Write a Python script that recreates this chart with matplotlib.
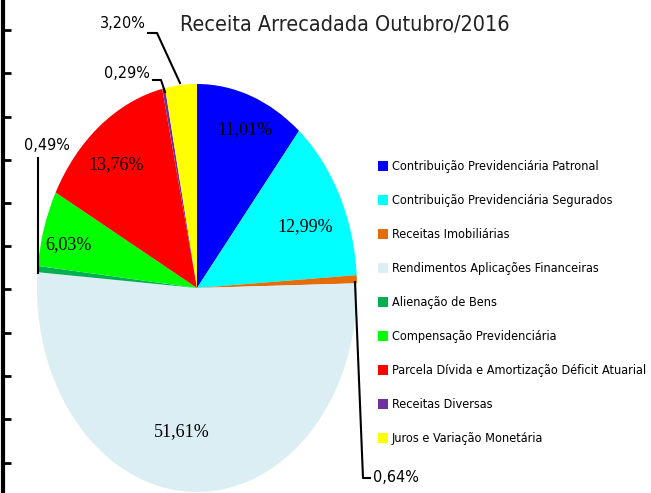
import matplotlib
matplotlib.use("Agg")
import matplotlib.pyplot as plt
from matplotlib.patches import Patch
from matplotlib import font_manager as fm

title = "Receita Arrecadada Outubro/2016"
categories = [
    "Contribuição Previdenciária Patronal",
    "Contribuição Previdenciária Segurados",
    "Receitas Imobiliárias",
    "Rendimentos Aplicações Financeiras",
    "Alienação de Bens",
    "Compensação Previdenciária",
    "Parcela Dívida e Amortização Déficit Atuarial",
    "Receitas Diversas",
    "Juros e Variação Monetária",
]
values = [11.01, 12.99, 0.64, 51.61, 0.49, 6.03, 13.76, 0.29, 3.20]
value_labels = ["11,01%", "12,99%", "0,64%", "51,61%", "0,49%", "6,03%", "13,76%", "0,29%", "3,20%"]
colors = ["#0000FF", "#00FFFF", "#E46C0A", "#DAEEF3", "#00B050",
          "#00FF00", "#FF0000", "#7030A0", "#FFFF00"]

W, H = 651, 493
fig = plt.figure(figsize=(W / 100, H / 100), dpi=100)
renderer = fig.canvas.get_renderer()

cond = [f for f in fm.fontManager.ttflist
        if "DejaVuSansCondensed.ttf" in f.fname]
if not cond:
    cond = [f for f in fm.fontManager.ttflist
            if "Condensed" in f.fname and "Bold" not in f.fname and "Oblique" not in f.fname
            and "Serif" not in f.fname and "Mono" not in f.fname]
cond_fname = cond[0].fname if cond else None


def nprop(size):
    if cond_fname:
        return fm.FontProperties(fname=cond_fname, size=size)
    return fm.FontProperties(family="DejaVu Sans", size=size)


def fit_size(text, target_px, base=10.0):
    t = fig.text(0, 0, text, fontproperties=nprop(base))
    w = t.get_window_extent(renderer).width
    t.remove()
    return base * target_px / w


serif = ["Liberation Serif", "DejaVu Serif"]

# pie axes (elliptical pie)
cx, cy, rx, ry = 197, 288, 160, 204
pax = fig.add_axes([(cx - rx) / W, (H - cy - ry) / H, 2 * rx / W, 2 * ry / H])
wedges, _ = pax.pie(values, colors=colors, startangle=90, counterclock=False,
                    wedgeprops=dict(linewidth=0))
pax.set_aspect("auto")
pax.set_xlim(-1, 1)
pax.set_ylim(-1, 1)
pax.axis("off")

# overlay in pixel coordinates
ov = fig.add_axes([0, 0, 1, 1], facecolor="none")
ov.set_xlim(0, W)
ov.set_ylim(H, 0)
ov.axis("off")

ov.text(345, 25, title, fontproperties=nprop(fit_size(title, 330)), ha="center", va="center",
        color="#222222")

inside = {0: (245, 130), 1: (305, 227), 3: (182, 432), 5: (68, 245), 6: (116, 165)}
for i, (x, y) in inside.items():
    ov.text(x, y, value_labels[i], fontsize=13, family=serif, ha="center", va="center")

osize = fit_size("0,64%", 46)
outside = {8: (123, 24), 7: (127, 74), 4: (47, 146), 2: (396, 478)}
for i, (x, y) in outside.items():
    ov.text(x, y, value_labels[i], fontproperties=nprop(osize), ha="center", va="center")

lk = dict(color="black", lw=1.5)
ov.plot([148, 157, 180], [33, 33, 83], **lk)
ov.plot([153, 161, 165], [80, 80, 92], **lk)
ov.plot([38, 38], [158, 273], **lk)
ov.plot([355, 363, 370], [282, 478, 478], **lk)

# legend
lsize = fit_size(categories[6], 256)
fs_px = lsize * 100 / 72
pitch = 37.4
line_h = fs_px * 1.29
handles = [Patch(facecolor=c, edgecolor="none") for c in colors]
leg = fig.legend(handles, categories, loc="upper left", bbox_to_anchor=(373 / W, 1 - 155 / H),
                 frameon=False, prop=nprop(lsize), handlelength=0.8,
                 handleheight=0.8, handletextpad=0.3,
                 labelspacing=(pitch - line_h) / fs_px, borderaxespad=0)

# left axis line with ticks
lax = fig.add_axes([2.5 / W, 0, 0.0001, 1], facecolor="none")
lax.set_ylim(H, 0)
lax.set_xticks([])
lax.set_yticks([30, 73, 117, 160, 203, 246, 289, 333, 376, 419, 463])
lax.set_yticklabels([])
lax.tick_params(axis="y", direction="in", length=6, width=2)
for s in ["top", "right", "bottom"]:
    lax.spines[s].set_visible(False)
lax.spines["left"].set_linewidth(3)

fig.savefig("out.png", dpi=100)
